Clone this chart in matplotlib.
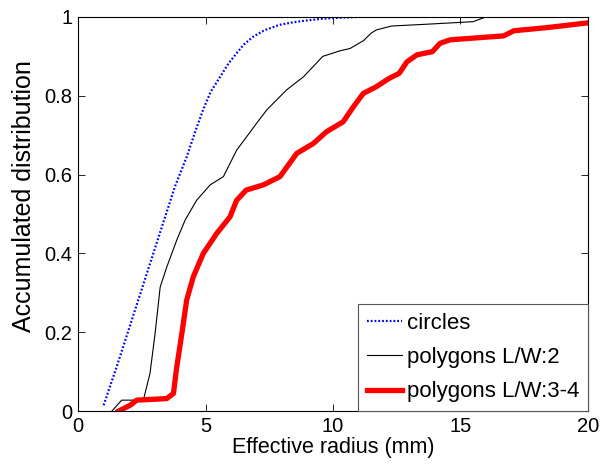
import numpy as np
import matplotlib.pyplot as plt
from matplotlib.ticker import FuncFormatter

plt.rcParams['font.family'] = ['Liberation Sans', 'DejaVu Sans']
plt.rcParams['font.size'] = 14

# effective radius (mm) / accumulated distribution
r_circ = [1.0, 1.5, 2.0, 2.5, 3.0, 3.4, 3.8, 4.26, 4.6, 4.9, 5.2, 5.57, 5.9, 6.22, 6.5, 6.87, 7.3, 7.9, 8.4, 8.84, 9.5, 10.2, 11.0]
v_circ = [0.015, 0.11, 0.21, 0.31, 0.41, 0.49, 0.57, 0.645, 0.71, 0.764, 0.81, 0.848, 0.882, 0.908, 0.93, 0.95, 0.966, 0.98, 0.986, 0.99, 0.995, 0.998, 1.0]

r_lw2 = [1.32, 1.71, 2.56, 2.82, 3.02, 3.22, 3.48, 3.87, 4.2, 4.65, 5.18, 5.7, 6.22, 7.0, 7.4, 8.18, 8.84, 9.6, 10.27, 10.67, 11.2, 11.5, 11.7, 12.3, 13.8, 15.5, 16.0]
v_lw2 = [0.0, 0.028, 0.028, 0.096, 0.197, 0.315, 0.366, 0.434, 0.485, 0.535, 0.574, 0.595, 0.662, 0.73, 0.764, 0.815, 0.848, 0.9, 0.914, 0.92, 0.94, 0.959, 0.967, 0.977, 0.982, 0.988, 1.0]

r_lw34 = [1.58, 2.04, 2.3, 3.48, 3.74, 3.87, 4.07, 4.26, 4.52, 4.91, 5.44, 5.96, 6.22, 6.6, 7.27, 7.92, 8.58, 9.23, 9.75, 10.4, 10.8, 11.19, 11.7, 12.2, 12.6, 12.9, 13.3, 13.9, 14.2, 14.6, 16.7, 17.1, 18.4, 20.0]
v_lw34 = [0.0, 0.015, 0.028, 0.032, 0.045, 0.112, 0.197, 0.282, 0.341, 0.4, 0.451, 0.493, 0.535, 0.561, 0.574, 0.595, 0.654, 0.679, 0.709, 0.734, 0.772, 0.806, 0.823, 0.844, 0.857, 0.886, 0.904, 0.912, 0.933, 0.942, 0.952, 0.965, 0.973, 0.985]

fig = plt.figure(figsize=(6.01, 4.71), dpi=100)
ax = fig.add_axes([0.13, 0.127, 0.848, 0.837])

ax.plot(r_circ, v_circ, color='blue', lw=1.6, ls=(0, (0.8, 0.9)), label='circles')
ax.plot(r_lw2, v_lw2, '-', color='black', lw=0.8, label='polygons L/W:2')
ax.plot(r_lw34, v_lw34, '-', color='red', lw=3.8, label='polygons L/W:3-4')

ax.set_xlim(0, 20)
ax.set_ylim(0, 1)
ax.set_xticks([0, 5, 10, 15, 20])
ax.set_yticks([0, 0.2, 0.4, 0.6, 0.8, 1])
ax.yaxis.set_major_formatter(FuncFormatter(lambda v, p: '%g' % v))
ax.tick_params(direction='in', top=True, right=True, length=5, width=0.6,
               labelsize=14.5, pad=4)
for s in ax.spines.values():
    s.set_linewidth(0.8)

ax.set_xlabel('Effective radius (mm)', fontsize=15.5, labelpad=1)
ax.set_ylabel('Accumulated distribution', fontsize=18)
ax.yaxis.set_label_coords(-0.082, 0.545)

leg = ax.legend(loc='lower right', fancybox=False, framealpha=1, borderaxespad=0,
                fontsize=16, handlelength=1.6, handletextpad=0.2,
                labelspacing=0.6, borderpad=0.4)
leg.get_frame().set_edgecolor('#555555')
leg.get_frame().set_linewidth(0.8)

plt.savefig('out.png', dpi=100)
